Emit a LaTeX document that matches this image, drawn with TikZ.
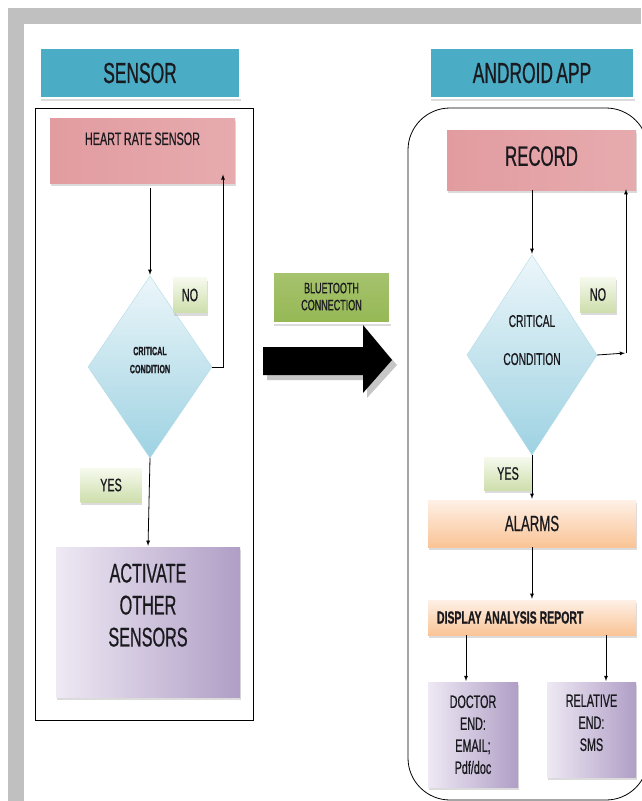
\documentclass[tikz,border=0pt]{standalone}
\usepackage{fontspec}
\setmainfont{Liberation Sans}[FakeStretch=0.6, FakeBold=0.6, WordSpace=0.7]
\usetikzlibrary{arrows,positioning,shapes.geometric,shadows,calc}
\newcommand\tightsp{\spaceskip=2.5pt\relax}
\definecolor{headblue}{RGB}{75,172,198}
\definecolor{pinkhi}{RGB}{250,236,236}
\definecolor{pinklo}{RGB}{226,156,160}
\definecolor{lilachi}{RGB}{238,233,244}
\definecolor{lilaclo}{RGB}{176,158,198}
\definecolor{orangehi}{RGB}{254,240,230}
\definecolor{orangelo}{RGB}{250,196,150}
\definecolor{diahi}{RGB}{236,246,250}
\definecolor{dialo}{RGB}{158,210,226}
\definecolor{leafhi}{RGB}{246,250,238}
\definecolor{leaflo}{RGB}{206,222,172}
\definecolor{btgreen}{RGB}{150,184,84}
\definecolor{framegray}{RGB}{192,192,192}
\definecolor{ink}{RGB}{25,25,30}
\tikzset{>=latex,
         every node/.style={text=ink, inner sep=0pt, align=center},
         shade/.style={drop shadow={shadow xshift=0.8pt, shadow yshift=-3pt, fill=gray!55}},
         header/.style={shade, rectangle, fill=headblue, draw=white, line width=1.5pt,
                        font=\fontsize{29}{31}\selectfont},
         pinkbox/.style={shade, rectangle, left color=pinklo, middle color=pinkhi, right color=pinklo!85},
         lilacbox/.style={shade, rectangle, left color=lilachi, middle color=lilachi!60!lilaclo, right color=lilaclo},
         orangebox/.style={shade, rectangle, top color=orangehi, bottom color=orangelo},
         leafbox/.style={shade, rectangle, top color=leafhi, bottom color=leaflo,
                         font=\fontsize{18}{20}\selectfont},
         decision/.style={diamond, top color=diahi, bottom color=dialo, draw=dialo!80, shape aspect=0.7},
         flow/.style={->, thick, shorten >=1pt}}
\begin{document}
\begin{tikzpicture}[x=1pt,y=-1pt]
\useasboundingbox (0,0) rectangle (641,801);
\fill[framegray] (8,8) rectangle (641,801);
\fill[white] (24,24) rectangle (641,801);

\node[header, minimum width=200pt, minimum height=50pt] (hsens) at (140,73) {SENSOR};
\draw[thick] (35,108) rectangle (253,720);
\node[pinkbox, minimum width=185pt, minimum height=65pt, font=\fontsize{18}{20}\selectfont\tightsp,
      anchor=north, text depth=24pt] (hr) at (142.5,118) {HEART RATE SENSOR};
\node[decision, minimum width=124pt, minimum height=182pt, font=\bfseries\fontsize{12}{18}\selectfont,
      text depth=14pt] (dec1) at (150,367) {CRITICAL\\CONDITION};
\node[leafbox, minimum width=34pt, minimum height=35pt] (no1) at (190,295) {NO};
\node[leafbox, minimum width=61pt, minimum height=34pt] (yes1) at (111,485) {YES};
\node[lilacbox, minimum width=184pt, minimum height=150pt, font=\fontsize{27}{32}\selectfont,
      text depth=34pt] (act) at (148,622) {ACTIVATE\\OTHER\\SENSORS};
\coordinate (loop1) at (223,367);
\draw[flow] (dec1.north |- hr.south) ++(0,5) -- (dec1.north);
\draw[flow] (dec1.east) -- (loop1) -- ([yshift=10pt]loop1 |- hr.south);
\draw[flow] (dec1.south) -- (act.north);

\node[shade, rectangle, top color=btgreen!85, bottom color=btgreen, draw=white, line width=1.2pt,
      minimum width=117pt, minimum height=51pt, font=\fontsize{15}{17}\selectfont, text depth=2pt]
      (bt) at (331.5,297.5) {BLUETOOTH\\CONNECTION};
\fill[gray!45] (267,352) -- (367,352) -- (367,330) -- (397,365) -- (367,398) -- (367,380) -- (267,380) -- cycle;
\fill[black] (263,347) -- (363,347) -- (363,325) -- (392,360) -- (363,393) -- (363,375) -- (263,375) -- cycle;

\node[header, minimum width=204pt, minimum height=50pt] (happ) at (532,73) {ANDROID APP};
\draw[thick, rounded corners=42pt] (408,108) rectangle (648,800);
\node[pinkbox, minimum width=189pt, minimum height=60pt, font=\fontsize{28}{30}\selectfont,
      text depth=8pt] (rec) at (541.5,160) {RECORD};
\node[decision, minimum width=130pt, minimum height=200pt, font=\fontsize{17}{38}\selectfont,
      text depth=30pt] (dec2) at (532,355) {CRITICAL\\CONDITION};
\node[leafbox, minimum width=36pt, minimum height=35pt] (no2) at (598,294.5) {NO};
\node[leafbox, minimum width=48pt, minimum height=33pt] (yes2) at (508,473.5) {YES};
\node[orangebox, minimum width=208pt, minimum height=47pt, font=\fontsize{22}{24}\selectfont]
      (alarm) at (532,523.5) {ALARMS};
\node[orangebox, minimum width=208pt, minimum height=35pt,
      font=\bfseries\fontsize{17.5}{19}\selectfont,
      text width=190pt, align=left] (disp) at (532,617.5) {DISPLAY\hspace{3pt}ANALYSIS\hspace{3pt}REPORT};
\node[lilacbox, minimum width=90pt, minimum height=105pt, font=\fontsize{18}{22}\selectfont,
      anchor=north] (doc) at (473,682) {DOCTOR\\END:\\EMAIL;\\Pdf/doc};
\node[lilacbox, minimum width=89pt, minimum height=95pt, font=\fontsize{18}{22}\selectfont,
      text depth=14pt, anchor=north] (rel) at (591.5,682) {RELATIVE\\END:\\SMS};
\coordinate (loop2) at (626,353);
\draw[flow] (rec.south) ++(-9.5,0) -- (dec2.north);
\draw[flow] (dec2.east) -- (loop2);
\draw[flow] (loop2) -- ([yshift=2pt]loop2 |- rec.south);
\draw[flow] (dec2.south) -- (alarm.north);
\draw[flow] (alarm.south) -- (disp.north);
\draw[flow] ([xshift=-7pt]doc.north |- disp.south) -- ([xshift=-7pt]doc.north);
\draw[flow] ([xshift=14.5pt]rel.north |- disp.south) -- ([xshift=14.5pt]rel.north);
\end{tikzpicture}
\end{document}
